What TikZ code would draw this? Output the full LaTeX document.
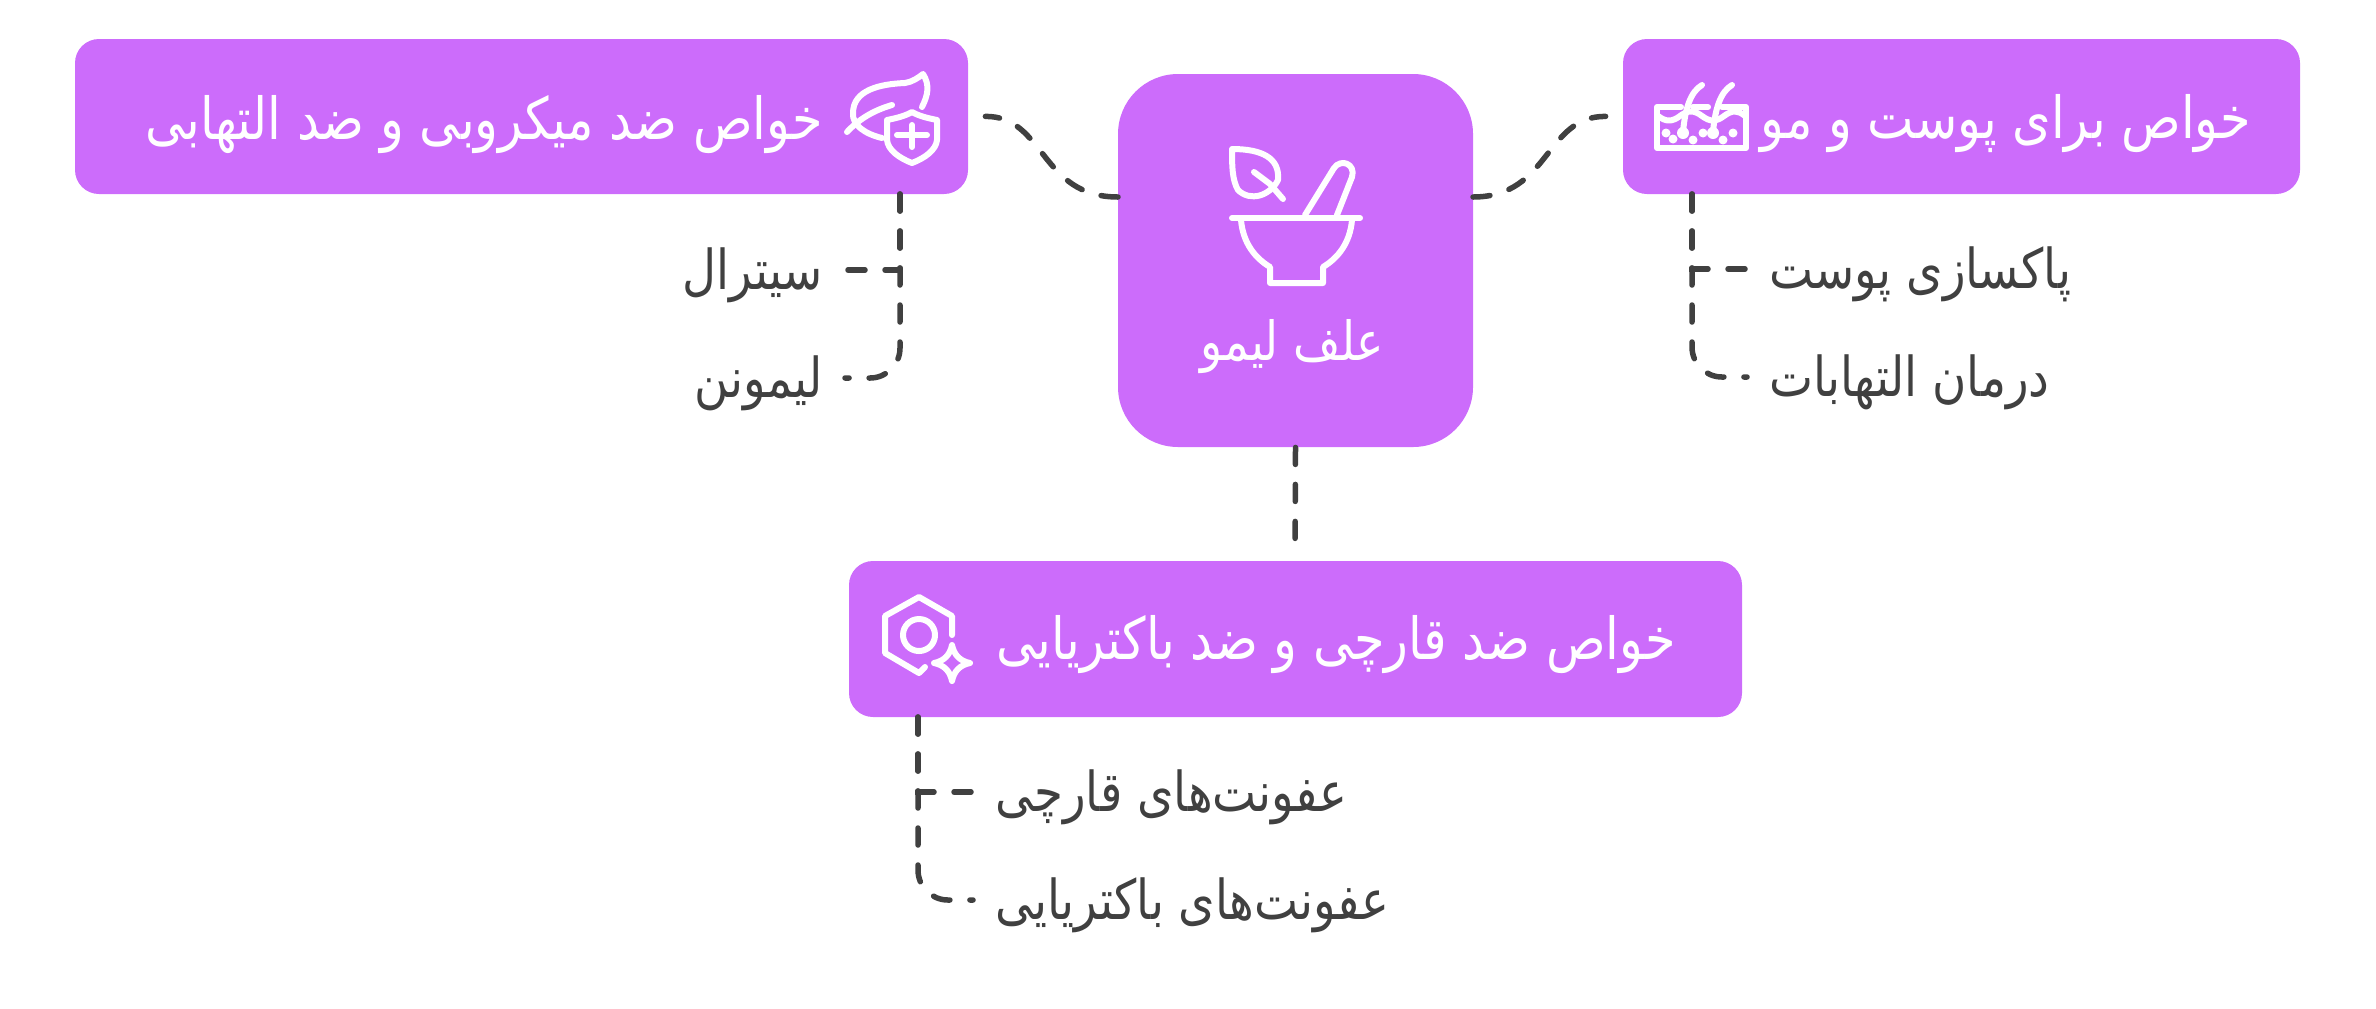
\documentclass[tikz,border=0pt]{standalone}
\usepackage{fontspec}
\TeXXeTstate=1
\newfontfamily\arabicfont[Script=Arabic,FakeStretch=0.85]{DejaVu Sans}
\newcommand{\fa}[1]{{\arabicfont\beginR #1\endR}}
\definecolor{cardfill}{HTML}{CC6CFB}
\definecolor{inkgray}{HTML}{404040}
\tikzset{
  card/.style={fill=cardfill, rounded corners=12pt, inner sep=0pt},
  cardtext/.style={text=white, font=\fontsize{29}{34}\selectfont, inner sep=0pt, anchor=base east},
  itemtext/.style={text=inkgray, font=\fontsize{27.5}{32}\selectfont, inner ysep=0pt, inner xsep=11pt, text height=23pt, text depth=4pt},
  linkdash/.style={draw=inkgray, line width=2.75pt, line cap=round, dash pattern=on 8.5pt off 10pt},
  iconline/.style={draw=white, line width=3pt, line cap=round, line join=round},
  icondot/.style={fill=white, draw=none}
}
\begin{document}
\begin{tikzpicture}[x=0.5pt,y=0.5pt]
\useasboundingbox (0,0) rectangle (2376,-1008);
% cards
\node [card, minimum width=177.5pt, minimum height=186.5pt, rounded corners=30pt] (hub) at (1295.5,-260.5) {};
\node [card, minimum width=446.5pt, minimum height=77.5pt] (microbe) at (521.5,-116.5) {};
\node [card, minimum width=338.5pt, minimum height=77.5pt] (skin) at (1961.5,-116.5) {};
\node [card, minimum width=446.5pt, minimum height=78pt] (fungal) at (1295.5,-639) {};
% card labels
\node [cardtext, font=\fontsize{27}{32}\selectfont] (hublabel) at (1384,-360.5) {\fa{علف لیمو}};
\node [cardtext] (microbelabel) at (823,-139.5) {\fa{خواص ضد میکروبی و ضد التهابی}};
\node [cardtext] (skinlabel) at (2251,-138.5) {\fa{خواص برای پوست و مو}};
\node [cardtext] (fungallabel) at (1676,-659.5) {\fa{خواص ضد قارچی و ضد باکتریایی}};
% items
\node [itemtext, anchor=east] (citral) at (845,-270) {\fa{سیترال}};
\node [itemtext, anchor=east] (limonene) at (845,-378) {\fa{لیمونن}};
\node [itemtext, anchor=west] (cleansing) at (1747,-269) {\fa{پاکسازی پوست}};
\node [itemtext, anchor=west] (soothing) at (1747,-377) {\fa{درمان التهابات}};
\node [itemtext, anchor=west] (fungi) at (973,-792) {\fa{عفونت^^^^200cهای قارچی}};
\node [itemtext, anchor=west] (bacteria) at (973,-900) {\fa{عفونت^^^^200cهای باکتریایی}};
% connector ends
\coordinate (hubleft) at (1118,-197);
\coordinate (hubright) at (1473,-197);
\coordinate (microberoot) at (900,-194);
\coordinate (skinroot) at (1692,-194);
\coordinate (fungalroot) at (918,-717);
\coordinate (fungaltop) at (1295,-561);
% connectors
\draw [linkdash, shorten >=8.5pt] (hubleft) .. controls (1040,-197) and (1045,-116) .. (microbe.east);
\draw [linkdash, shorten >=8.5pt] (hubright) .. controls (1550,-197) and (1545,-116) .. (skin.west);
\draw [linkdash, shorten >=10pt] (hub.south) -- (fungaltop);
\draw [linkdash] (microberoot) |- (citral.east);
\draw [linkdash, rounded corners=15pt] (microberoot) |- (limonene.east);
\draw [linkdash] (skinroot) |- (cleansing.west);
\draw [linkdash, rounded corners=15pt] (skinroot) |- (soothing.west);
\draw [linkdash] (fungalroot) |- (fungi.west);
\draw [linkdash, rounded corners=15pt] (fungalroot) |- (bacteria.west);
% mortar icon
\draw [iconline] (1232,-218) -- (1360,-218);
\draw [iconline] (1241,-220) .. controls (1243,-243) and (1255,-258) .. (1270,-267) -- (1270,-283) -- (1323,-283) -- (1323,-267) .. controls (1338,-258) and (1350,-243) .. (1352,-220);
\draw [iconline] (1305,-215) -- (1334,-168) .. controls (1341,-158) and (1356,-164) .. (1352,-177) -- (1337,-215);
\draw [iconline] (1232,-149) .. controls (1262,-149) and (1280,-158) .. (1278,-180) .. controls (1270,-196) and (1250,-202) .. (1238,-190) .. controls (1232,-180) and (1232,-165) .. cycle;
\draw [iconline] (1254,-172) -- (1270,-184) -- (1283,-199);
% leaf and shield icon
\draw [iconline] (882,-138) .. controls (865,-134) and (852,-125) .. (853,-113) .. controls (853,-90) and (880,-84) .. (905,-83) .. controls (912,-82) and (918,-78) .. (923,-74) .. controls (930,-85) and (928,-95) .. (922,-107);
\draw [iconline] (847,-132) .. controls (860,-118) and (875,-110) .. (892,-105);
\draw [iconline] (887,-120) .. controls (897,-118) and (905,-116) .. (912,-112) .. controls (919,-116) and (927,-118) .. (937,-120) -- (937,-140) .. controls (936,-150) and (925,-158) .. (912,-163) .. controls (899,-158) and (888,-150) .. (887,-140) -- cycle;
\draw [iconline] (897,-135) -- (927,-135);
\draw [iconline] (912,-125) -- (912,-147);
% skin icon
\draw [iconline] (1681,-107) -- (1657,-107) -- (1657,-148) -- (1746,-148) -- (1746,-107) -- (1722,-107);
\draw [iconline] (1693,-107) -- (1708,-107);
\draw [iconline] (1658,-116) .. controls (1666,-122) and (1672,-122) .. (1680,-116) .. controls (1688,-110) and (1694,-110) .. (1702,-116) .. controls (1710,-122) and (1716,-122) .. (1724,-116) .. controls (1732,-110) and (1738,-110) .. (1745,-116);
\draw [iconline] (1683,-132) .. controls (1685,-110) and (1690,-92) .. (1702,-85);
\draw [iconline] (1713,-132) .. controls (1715,-110) and (1720,-92) .. (1732,-85);
\fill [icondot] (1683,-133) circle (6);
\fill [icondot] (1713,-133) circle (6);
\foreach \dotx/\doty in {1666/-133,1673/-139,1693/-140,1703/-133,1723/-140,1733/-133}
  \fill [icondot] (\dotx,\doty) circle (4.5);
% hexagon icon
\draw [iconline] (952,-635) -- (952,-616) -- (919,-597) -- (885,-616) -- (885,-653) -- (919,-673) -- (925,-667);
\draw [iconline] (919,-635) circle (16);
\draw [iconline] (952,-645) .. controls (954,-655) and (960,-661) .. (970,-663) .. controls (960,-665) and (954,-671) .. (952,-681) .. controls (950,-671) and (944,-665) .. (934,-663) .. controls (944,-661) and (950,-655) .. cycle;
\end{tikzpicture}
\end{document}
